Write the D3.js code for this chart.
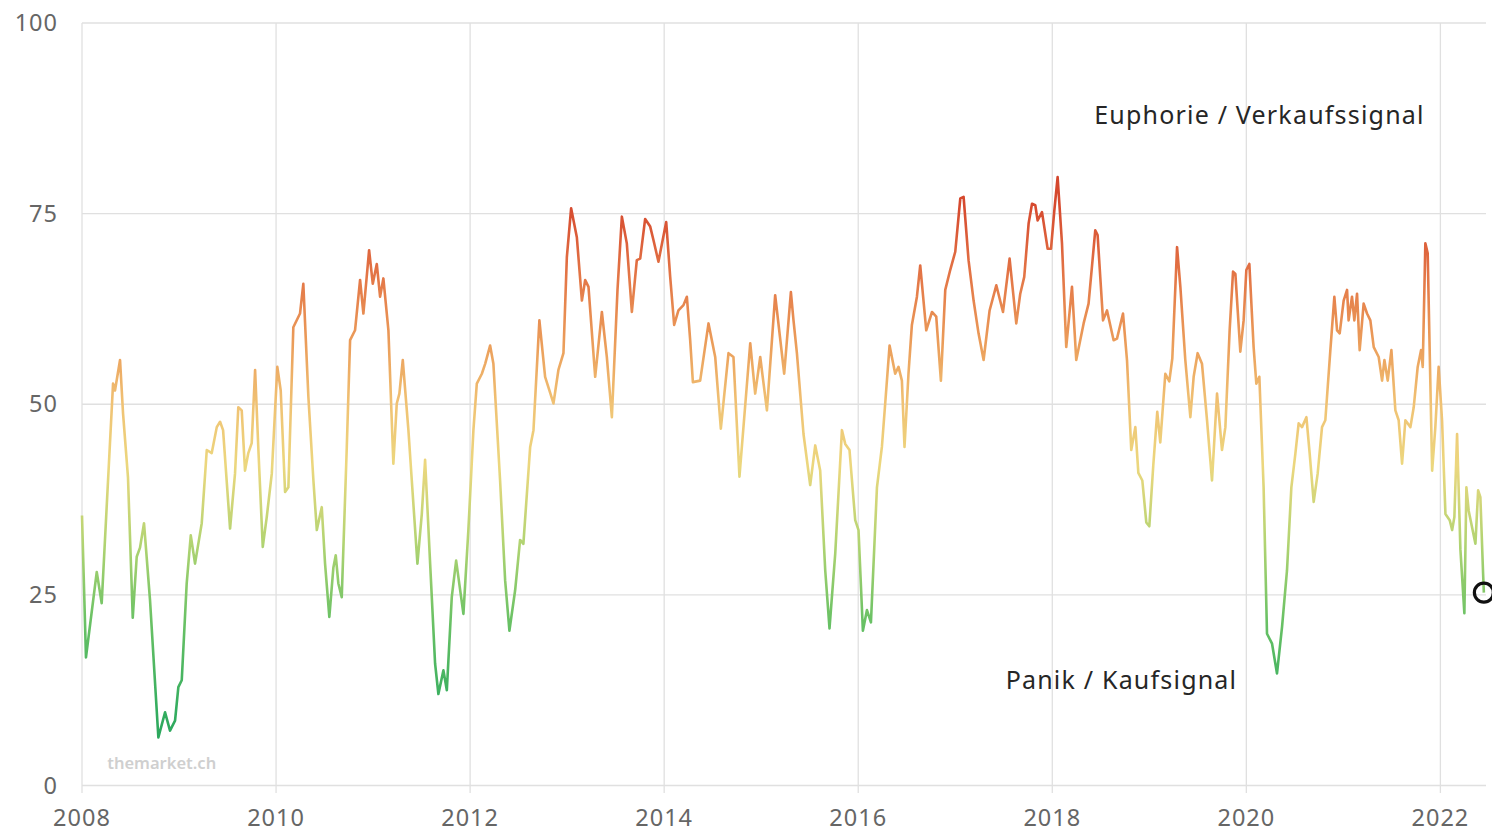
<!DOCTYPE html>
<html>
<head>
<meta charset="utf-8">
<script src="https://cdn.jsdelivr.net/npm/d3@7"></script>
<style>
  body { margin: 0; background: #fff; }
  .grid line { stroke: #e0e0e0; stroke-width: 1.3; }
  .tick-label { font-family: "Noto Sans", sans-serif; font-size: 23.5px; fill: #666; letter-spacing: 1px; }
  .note { font-family: "Noto Sans", sans-serif; font-size: 25px; fill: #262626; letter-spacing: 1.2px; }
  .watermark { font-family: "Noto Sans", sans-serif; font-size: 16.5px; fill: #cfcfcf; font-weight: 600; }
</style>
</head>
<body>
<script>
// Chart values (decimal year, sentiment index 0-100)
var yearTicks = [2008, 2010, 2012, 2014, 2016, 2018, 2020, 2022];
var valueTicks = [0, 25, 50, 75, 100];

var dates = [
  2008.000, 2008.041, 2008.152, 2008.203, 2008.320, 2008.340, 2008.392, 2008.423, 2008.474, 2008.523,
  2008.564, 2008.598, 2008.639, 2008.701, 2008.787, 2008.856, 2008.907, 2008.959, 2008.993, 2009.028,
  2009.079, 2009.121, 2009.165, 2009.234, 2009.286, 2009.337, 2009.389, 2009.423, 2009.454, 2009.526,
  2009.577, 2009.611, 2009.646, 2009.680, 2009.714, 2009.749, 2009.784, 2009.818, 2009.863, 2009.904,
  2009.956, 2010.013, 2010.048, 2010.093, 2010.127, 2010.178, 2010.247, 2010.281, 2010.333, 2010.385,
  2010.420, 2010.471, 2010.505, 2010.549, 2010.591, 2010.615, 2010.642, 2010.677, 2010.729, 2010.763,
  2010.814, 2010.866, 2010.900, 2010.959, 2010.997, 2011.038, 2011.072, 2011.106, 2011.158, 2011.209,
  2011.244, 2011.271, 2011.306, 2011.364, 2011.399, 2011.457, 2011.502, 2011.536, 2011.588, 2011.639,
  2011.673, 2011.725, 2011.760, 2011.811, 2011.856, 2011.931, 2011.982, 2012.034, 2012.069, 2012.121,
  2012.155, 2012.206, 2012.240, 2012.309, 2012.361, 2012.405, 2012.464, 2012.515, 2012.549, 2012.619,
  2012.653, 2012.714, 2012.773, 2012.818, 2012.859, 2012.910, 2012.962, 2012.997, 2013.041, 2013.100,
  2013.152, 2013.186, 2013.220, 2013.289, 2013.358, 2013.409, 2013.461, 2013.519, 2013.564, 2013.615,
  2013.667, 2013.718, 2013.753, 2013.804, 2013.856, 2013.890, 2013.941, 2014.021, 2014.062, 2014.103,
  2014.147, 2014.199, 2014.234, 2014.268, 2014.296, 2014.371, 2014.457, 2014.526, 2014.584, 2014.663,
  2014.714, 2014.776, 2014.887, 2014.938, 2014.990, 2015.059, 2015.144, 2015.237, 2015.306, 2015.333,
  2015.368, 2015.436, 2015.505, 2015.557, 2015.608, 2015.660, 2015.704, 2015.763, 2015.832, 2015.866,
  2015.910, 2015.969, 2016.003, 2016.048, 2016.090, 2016.131, 2016.193, 2016.244, 2016.278, 2016.323,
  2016.381, 2016.415, 2016.450, 2016.477, 2016.518, 2016.553, 2016.605, 2016.639, 2016.701, 2016.760,
  2016.804, 2016.852, 2016.897, 2016.948, 2017.000, 2017.052, 2017.086, 2017.137, 2017.189, 2017.240,
  2017.292, 2017.354, 2017.423, 2017.492, 2017.560, 2017.629, 2017.670, 2017.711, 2017.756, 2017.791,
  2017.825, 2017.849, 2017.894, 2017.952, 2017.987, 2018.021, 2018.055, 2018.100, 2018.144, 2018.203,
  2018.247, 2018.323, 2018.374, 2018.443, 2018.467, 2018.523, 2018.564, 2018.632, 2018.667, 2018.729,
  2018.770, 2018.814, 2018.856, 2018.887, 2018.928, 2018.969, 2019.000, 2019.041, 2019.082, 2019.113,
  2019.165, 2019.206, 2019.237, 2019.286, 2019.320, 2019.371, 2019.423, 2019.457, 2019.498, 2019.543,
  2019.595, 2019.646, 2019.698, 2019.749, 2019.784, 2019.828, 2019.863, 2019.887, 2019.938, 2019.972,
  2020.000, 2020.031, 2020.075, 2020.103, 2020.134, 2020.178, 2020.213, 2020.265, 2020.316, 2020.368,
  2020.419, 2020.464, 2020.505, 2020.539, 2020.574, 2020.619, 2020.653, 2020.694, 2020.735, 2020.780,
  2020.814, 2020.866, 2020.907, 2020.935, 2020.962, 2021.003, 2021.038, 2021.054, 2021.089, 2021.113,
  2021.141, 2021.168, 2021.209, 2021.244, 2021.278, 2021.313, 2021.364, 2021.399, 2021.423, 2021.457,
  2021.495, 2021.536, 2021.570, 2021.605, 2021.639, 2021.691, 2021.725, 2021.766, 2021.801, 2021.818,
  2021.845, 2021.869, 2021.915, 2021.948, 2021.982, 2022.017, 2022.052, 2022.096, 2022.121, 2022.144,
  2022.172, 2022.206, 2022.247, 2022.268, 2022.292, 2022.361, 2022.389, 2022.412, 2022.440, 2022.448
];

var sentiment = [
  35.4, 16.8, 28.0, 23.9, 52.7, 51.8, 55.8, 48.8, 40.4, 22.0,
  30.0, 31.2, 34.4, 24.3, 6.3, 9.6, 7.2, 8.5, 12.9, 13.8,
  26.5, 32.8, 29.1, 34.4, 44.0, 43.6, 47.0, 47.7, 46.6, 33.7,
  40.9, 49.6, 49.2, 41.3, 43.6, 44.9, 54.5, 44.0, 31.3, 35.2,
  40.9, 54.9, 51.8, 38.5, 39.1, 60.1, 61.9, 65.8, 51.0, 40.0,
  33.5, 36.5, 29.1, 22.1, 28.6, 30.2, 26.5, 24.7, 44.4, 58.4,
  59.7, 66.3, 61.9, 70.2, 65.8, 68.4, 64.1, 66.5, 59.7, 42.2,
  50.1, 51.4, 55.8, 46.6, 40.0, 29.1, 35.6, 42.7, 29.1, 16.0,
  12.0, 15.1, 12.5, 24.7, 29.5, 22.5, 33.5, 46.6, 52.7, 54.0,
  55.3, 57.7, 55.3, 40.0, 26.9, 20.3, 25.6, 32.2, 31.7, 44.4,
  46.6, 61.0, 53.6, 51.8, 50.1, 54.5, 56.7, 69.3, 75.7, 71.9,
  63.6, 66.3, 65.4, 53.6, 62.1, 56.2, 48.3, 65.0, 74.6, 71.1,
  62.1, 68.9, 69.1, 74.3, 73.3, 71.5, 68.7, 73.9, 66.7, 60.4,
  62.3, 63.0, 64.1, 58.4, 52.9, 53.1, 60.6, 56.2, 46.8, 56.7,
  56.2, 40.5, 58.0, 51.4, 56.2, 49.2, 64.3, 54.0, 64.7, 61.0,
  56.7, 46.1, 39.4, 44.6, 41.3, 28.2, 20.6, 30.4, 46.6, 44.8,
  44.0, 34.8, 33.5, 20.3, 23.0, 21.4, 39.1, 44.4, 50.1, 57.7,
  54.0, 54.9, 53.1, 44.4, 54.0, 60.4, 64.1, 68.2, 59.7, 62.1,
  61.5, 53.1, 65.0, 67.6, 70.0, 77.0, 77.2, 68.9, 63.6, 59.3,
  55.8, 62.3, 65.6, 62.1, 69.1, 60.6, 64.5, 66.7, 73.7, 76.3,
  76.1, 74.1, 75.2, 70.4, 70.4, 75.4, 79.8, 71.1, 57.5, 65.4,
  55.8, 60.6, 63.2, 72.8, 72.2, 61.0, 62.3, 58.4, 58.6, 61.9,
  55.8, 44.0, 47.0, 41.0, 40.0, 34.5, 34.0, 42.0, 49.0, 45.0,
  54.0, 53.0, 56.0, 70.6, 65.4, 55.8, 48.3, 53.6, 56.7, 55.3,
  47.9, 40.0, 51.4, 44.0, 47.0, 59.7, 67.4, 67.1, 56.9, 61.0,
  67.6, 68.4, 57.5, 52.7, 53.6, 39.1, 19.9, 18.6, 14.7, 20.8,
  28.2, 39.1, 43.5, 47.5, 47.0, 48.3, 43.5, 37.2, 40.9, 47.0,
  47.9, 57.1, 64.1, 59.7, 59.3, 63.6, 65.0, 61.0, 64.1, 61.0,
  64.5, 57.1, 63.2, 61.9, 61.0, 57.5, 56.2, 53.1, 55.8, 53.1,
  57.1, 49.2, 47.9, 42.2, 47.9, 47.0, 49.6, 54.9, 57.1, 54.9,
  71.1, 69.8, 41.3, 47.0, 54.9, 47.9, 35.6, 34.8, 33.5, 35.2,
  46.1, 31.0, 22.6, 39.1, 36.0, 31.7, 38.7, 37.8, 27.8, 25.3
];

var data = dates.map(function(d, i) { return {year: d, value: sentiment[i]}; });

// Set margin, width and height
var margin = {top: 23, right: 6, bottom: 48, left: 82},
    width = 1492 - margin.left - margin.right,
    height = 833 - margin.top - margin.bottom;

var svg = d3.select("body")
    .append("svg")
    .attr("width", 1492)
    .attr("height", 833);

var chart = svg.append("g")
    .attr("transform", "translate(" + margin.left + "," + margin.top + ")");

var xScale = d3.scaleLinear()
    .domain([2008, 2022.47])
    .range([0, width]);

var yScale = d3.scaleLinear()
    .domain([0, 100])
    .range([height + 0.5, 0]);

// Gridlines
var grid = chart.append("g").attr("class", "grid");

grid.selectAll(".hline")
    .data(valueTicks)
    .enter()
    .append("line")
    .attr("x1", 0)
    .attr("x2", width)
    .attr("y1", function(d) { return yScale(d); })
    .attr("y2", function(d) { return yScale(d); });

grid.selectAll(".vline")
    .data(yearTicks)
    .enter()
    .append("line")
    .attr("x1", function(d) { return xScale(d); })
    .attr("x2", function(d) { return xScale(d); })
    .attr("y1", 0)
    .attr("y2", height + 8);

// Tick labels
chart.selectAll(".ylab")
    .data(valueTicks)
    .enter()
    .append("text")
    .attr("class", "tick-label")
    .attr("x", -24)
    .attr("y", function(d) { return yScale(d); })
    .attr("dy", "0.35em")
    .attr("text-anchor", "end")
    .text(function(d) { return d; });

chart.selectAll(".xlab")
    .data(yearTicks)
    .enter()
    .append("text")
    .attr("class", "tick-label")
    .attr("x", function(d) { return xScale(d); })
    .attr("y", height + 41)
    .attr("text-anchor", "middle")
    .text(function(d) { return d; });

// Colour the line by its value: green (panic) -> yellow -> red (euphoria)
var gradStops = [
  {v: 0, c: "#1f9e5a"},
  {v: 10, c: "#34ad5f"},
  {v: 22, c: "#6cc265"},
  {v: 32, c: "#b3d472"},
  {v: 42, c: "#ecd77e"},
  {v: 50, c: "#f0c274"},
  {v: 58, c: "#eb9d5a"},
  {v: 67, c: "#e37546"},
  {v: 76, c: "#d64a2f"},
  {v: 100, c: "#c8301e"}
];

var grad = svg.append("defs")
    .append("linearGradient")
    .attr("id", "valueGrad")
    .attr("gradientUnits", "userSpaceOnUse")
    .attr("x1", 0).attr("x2", 0)
    .attr("y1", yScale(0)).attr("y2", yScale(100));

grad.selectAll("stop")
    .data(gradStops)
    .enter()
    .append("stop")
    .attr("offset", function(d) { return d.v + "%"; })
    .attr("stop-color", function(d) { return d.c; });

var line = d3.line()
    .x(function(d) { return xScale(d.year); })
    .y(function(d) { return yScale(d.value); });

chart.append("path")
    .datum(data)
    .attr("fill", "none")
    .attr("stroke", "url(#valueGrad)")
    .attr("stroke-width", 2.6)
    .attr("stroke-linejoin", "round")
    .attr("d", line);

// Marker on the latest reading
var last = data[data.length - 1];
chart.append("circle")
    .attr("cx", xScale(last.year))
    .attr("cy", yScale(last.value))
    .attr("r", 9.5)
    .attr("fill", "none")
    .attr("stroke", "#111")
    .attr("stroke-width", 3.2);

// Annotations
chart.append("text")
    .attr("class", "note")
    .attr("x", xScale(2020.135))
    .attr("y", yScale(86.8))
    .attr("text-anchor", "middle")
    .text("Euphorie / Verkaufssignal");

chart.append("text")
    .attr("class", "note")
    .attr("x", xScale(2018.713))
    .attr("y", yScale(12.6))
    .attr("text-anchor", "middle")
    .text("Panik / Kaufsignal");

chart.append("text")
    .attr("class", "watermark")
    .attr("x", xScale(2008.26))
    .attr("y", yScale(2.1))
    .text("themarket.ch");
</script>
</body>
</html>
